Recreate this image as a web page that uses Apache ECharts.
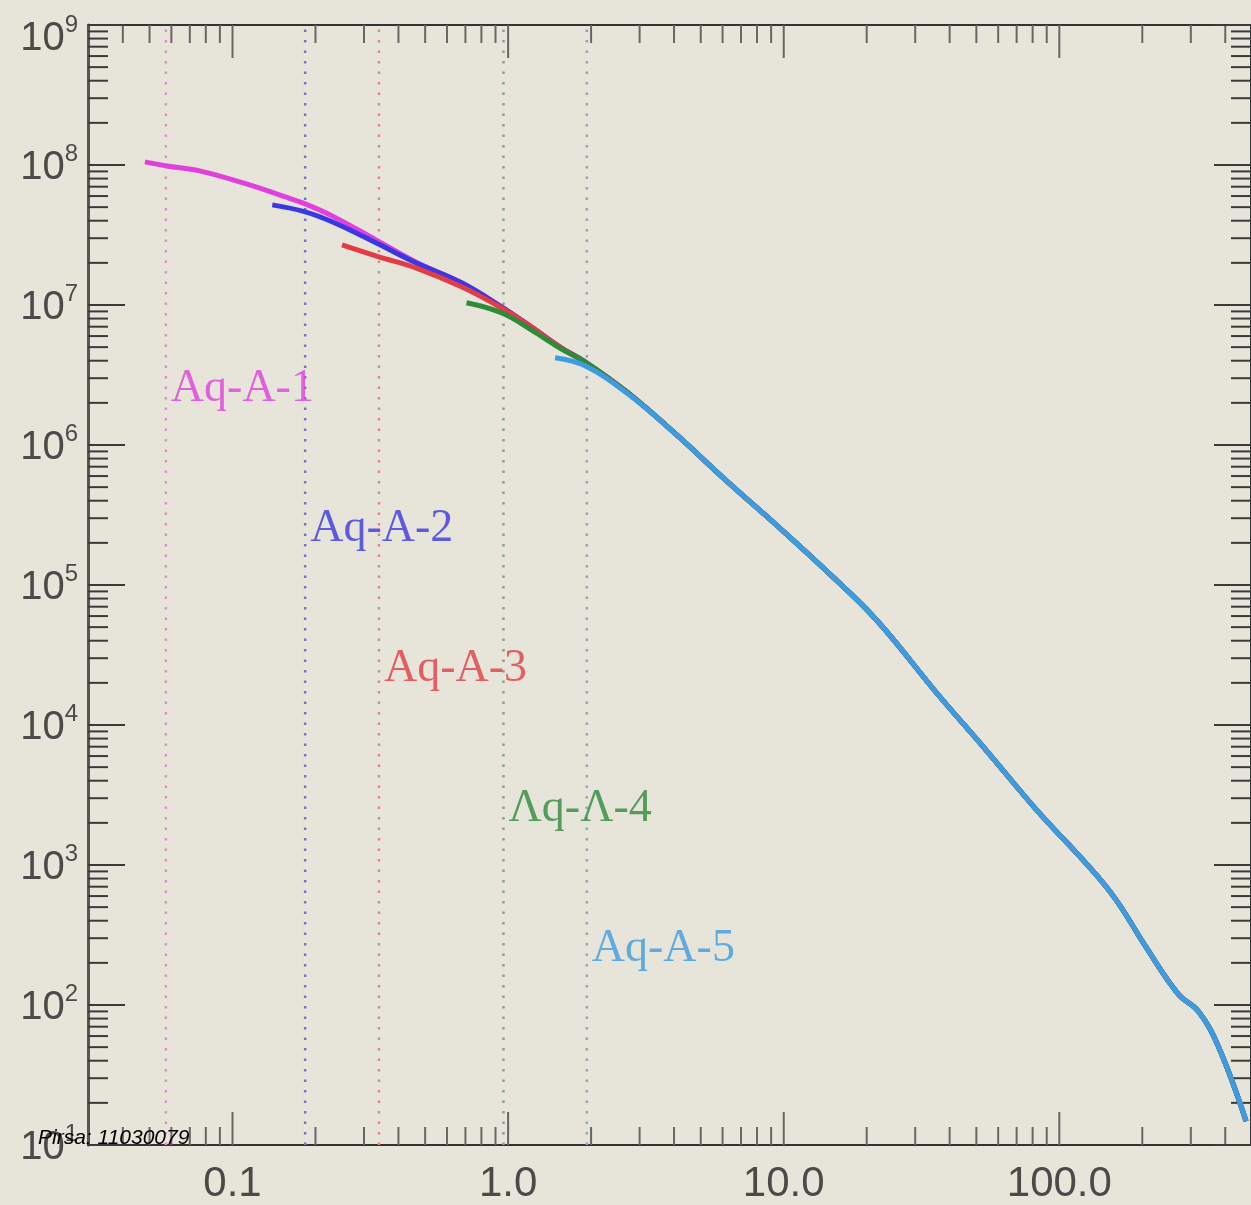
<!DOCTYPE html>
<html>
<head>
<meta charset="utf-8">
<script src="https://cdn.jsdelivr.net/npm/echarts@6/dist/echarts.min.js"></script>
<style>
html, body { margin: 0; padding: 0; background: #e7e5d9; }
#main { width: 1251px; height: 1205px; }
</style>
</head>
<body>
<div id="main"></div>
<script>
// axis ranges
var X_MIN = 0.0299, X_MAX = 496;
var Y_MIN = 10, Y_MAX = 1e9;

// composite curve (all runs agree here)
var mainX = [0.0481, 0.0578, 0.0760, 0.1152, 0.1516, 0.1835, 0.2298, 0.3313, 0.4622, 0.6774, 0.9449, 1.213, 1.557, 1.900, 2.718, 4.120, 6.245, 9.467, 14.35, 21.75, 35.83, 54.29, 82.33, 127.9, 160.2, 205.6, 270.5, 319.4, 377.3, 476.1];
var mainY = [1.052e8, 9.85e7, 9.08e7, 7.21e7, 6.02e7, 5.28e7, 4.33e7, 2.92e7, 2.03e7, 1.44e7, 9.71e6, 6.99e6, 4.95e6, 3.93e6, 2.36e6, 1.165e6, 5.47e5, 2.65e5, 1.25e5, 5.6e4, 1.7e4, 6.6e3, 2.5e3, 977, 568, 262, 119.2, 90.2, 50.7, 14.8];

// starting pieces of each run before it joins the composite
var a2X = [0.1394, 0.1835, 0.2298, 0.3313, 0.4622];
var a2Y = [5.19e7, 4.63e7, 3.93e7, 2.78e7, 2.00e7];
var a3X = [0.2497, 0.3398, 0.4622, 0.6774, 0.9449];
var a3Y = [2.69e7, 2.21e7, 1.843e7, 1.349e7, 9.55e6];
var a4X = [0.7063, 0.9449, 1.213, 1.557];
var a4Y = [1.037e7, 8.80e6, 6.65e6, 4.87e6];
var a5X = [1.481, 1.900, 2.718];
var a5Y = [4.20e6, 3.68e6, 2.32e6];

// dotted vertical lines (one per run) and label placement
var runNames = ['Aq-A-1', 'Aq-A-2', 'Aq-A-3', 'Λq-Λ-4', 'Aq-A-5'];
var runLimits = [0.0573, 0.1835, 0.340, 0.962, 1.93];
var labelY = [2.5e6, 2.5e5, 2.5e4, 2.5e3, 2.5e2];
var runColors = ['#e040dc', '#3a38e0', '#e23c44', '#2f8a3c', '#3d9be0'];
var dotColors = ['#dc90d0', '#7472c8', '#d88a8a', '#8aa08a', '#8aa6c4'];

// tick values
var xMajor = [0.1, 1, 10, 100];
var xMinor = [0.04, 0.05, 0.06, 0.07, 0.08, 0.09, 0.2, 0.3, 0.4, 0.5, 0.6, 0.7, 0.8, 0.9,
  2, 3, 4, 5, 6, 7, 8, 9, 20, 30, 40, 50, 60, 70, 80, 90, 200, 300, 400];
var yMajor = [1e1, 1e2, 1e3, 1e4, 1e5, 1e6, 1e7, 1e8, 1e9];
var yMinorMant = [2, 3, 4, 5, 6, 7, 8, 9];

function pairs(xs, ys) {
  var out = [];
  for (var i = 0; i < xs.length; i++) out.push([xs[i], ys[i]]);
  return out;
}
function withTail(hx, hy) {
  var d = pairs(hx, hy);
  var last = hx.length ? hx[hx.length - 1] : 0;
  for (var i = 0; i < mainX.length; i++) {
    if (mainX[i] > last) d.push([mainX[i], mainY[i]]);
  }
  return d;
}

var tickData = [];
xMajor.forEach(function (v) { tickData.push([v, Y_MIN, 0, 1]); });
xMinor.forEach(function (v) { tickData.push([v, Y_MIN, 0, 0]); });
yMajor.forEach(function (v) { tickData.push([X_MIN, v, 1, 1]); });
yMajor.slice(0, -1).forEach(function (p) {
  yMinorMant.forEach(function (m) { tickData.push([X_MIN, m * p, 1, 0]); });
});

var series = [];

// dotted lines
runLimits.forEach(function (r, i) {
  series.push({
    type: 'line', data: [[r, Y_MIN], [r, Y_MAX]], symbol: 'none', silent: true,
    lineStyle: { color: dotColors[i], width: 2.5, type: [2.5, 8] }, z: 1
  });
});

// runs
var runData = [
  withTail([], []),
  withTail(a2X, a2Y),
  withTail(a3X, a3Y),
  withTail(a4X, a4Y),
  withTail(a5X, a5Y)
];
runData.forEach(function (d, i) {
  series.push({
    name: runNames[i], type: 'line', data: d, symbol: 'none', smooth: 0.4,
    lineStyle: { color: runColors[i], width: 5 }, z: 3 + i
  });
});

// run labels
series.push({
  type: 'scatter', symbolSize: 0, z: 10, silent: true,
  data: runLimits.map(function (r, i) {
    return { value: [r, labelY[i]], name: runNames[i], label: { color: runColors[i] } };
  }),
  label: {
    show: true, position: 'right', distance: 5,
    fontFamily: 'Liberation Serif', fontSize: 46,
    formatter: function (p) { return p.name; }
  }
});

// axis ticks (inward on all four sides)
series.push({
  type: 'custom', silent: true, z: 2, clip: false,
  data: tickData,
  renderItem: function (params, api) {
    var kind = api.value(2), major = api.value(3);
    if (kind === 0) {
      var v = api.value(0);
      var pb = api.coord([v, Y_MIN]), pt = api.coord([v, Y_MAX]);
      var len = major ? 33 : 18;
      var sx = { stroke: '#666', lineWidth: 2 };
      return { type: 'group', children: [
        { type: 'line', shape: { x1: pb[0], y1: pb[1], x2: pb[0], y2: pb[1] - len }, style: sx },
        { type: 'line', shape: { x1: pt[0], y1: pt[1], x2: pt[0], y2: pt[1] + len }, style: sx }
      ] };
    }
    var w = api.value(1);
    var pl = api.coord([X_MIN, w]), pr = api.coord([X_MAX, w]);
    var l2 = major ? 37 : 20;
    var sy = { stroke: '#3a3a3a', lineWidth: 2 };
    return { type: 'group', children: [
      { type: 'line', shape: { x1: pl[0], y1: pl[1], x2: pl[0] + l2, y2: pl[1] }, style: sy },
      { type: 'line', shape: { x1: pr[0], y1: pr[1], x2: pr[0] - l2, y2: pr[1] }, style: sy }
    ] };
  }
});

var chart = echarts.init(document.getElementById('main'), null, { renderer: 'canvas' });
chart.setOption({
  backgroundColor: '#e7e5d9',
  animation: false,
  grid: { left: 88, top: 25, width: 1168, height: 1122, show: true, borderColor: '#333', borderWidth: 2, backgroundColor: 'transparent' },
  xAxis: {
    type: 'log', min: X_MIN, max: X_MAX, logBase: 10,
    axisLine: { show: true, lineStyle: { color: '#333', width: 2 } },
    axisTick: { show: false }, splitLine: { show: false }, minorTick: { show: false },
    axisLabel: {
      showMinLabel: false, showMaxLabel: false, margin: 18,
      fontFamily: 'Liberation Sans', fontSize: 42, color: '#4a4a4a',
      formatter: function (v) { return v.toFixed(1); }
    }
  },
  yAxis: {
    type: 'log', min: Y_MIN, max: Y_MAX, logBase: 10,
    axisLine: { show: true, lineStyle: { color: '#555', width: 3 } },
    axisTick: { show: false }, splitLine: { show: false },
    axisLabel: {
      margin: 10, color: '#4a4a4a',
      formatter: function (v) {
        var e = Math.round(Math.log10(v));
        if (e === 9) return '{b9|10}{s9|' + e + '}';
        return '{b|10}{s|' + e + '}';
      },
      rich: {
        b: { fontFamily: 'Liberation Sans', fontSize: 40, color: '#4a4a4a', padding: [5, 0, 0, 0] },
        s: { fontFamily: 'Liberation Sans', fontSize: 24, color: '#4a4a4a', verticalAlign: 'top' },
        b9: { fontFamily: 'Liberation Sans', fontSize: 40, color: '#4a4a4a', padding: [27, 0, 0, 0] },
        s9: { fontFamily: 'Liberation Sans', fontSize: 24, color: '#4a4a4a', verticalAlign: 'top', padding: [22, 0, 0, 0] }
      }
    }
  },
  graphic: [{
    type: 'text', left: 38, top: 1128, z: 100,
    style: { text: 'Pirsa: 11030079', font: 'italic 21px "Liberation Sans"', fill: '#000' }
  }],
  series: series
});
</script>
</body>
</html>
